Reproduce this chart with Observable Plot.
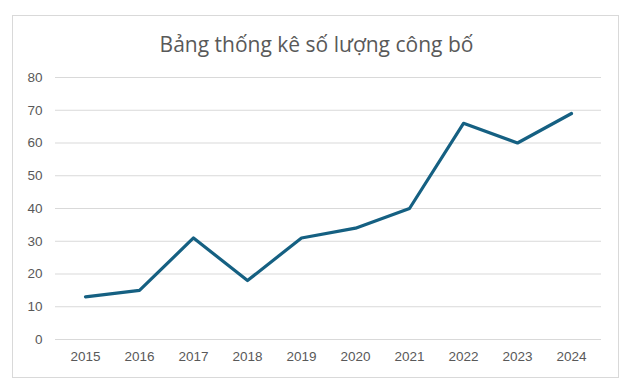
<!DOCTYPE html>
<html>
<head>
<meta charset="utf-8">
<script src="https://cdn.jsdelivr.net/npm/d3@7"></script>
<script src="https://cdn.jsdelivr.net/npm/@observablehq/plot@0.6"></script>
<style>
  html, body { margin: 0; padding: 0; background: #fff; }
  #wrap { position: relative; width: 633px; height: 391px; overflow: hidden; font-family: "Open Sans", "Noto Sans", sans-serif; }
  #frame { position: absolute; left: 12px; top: 15px; width: 605px; height: 361px; border: 1px solid #d9d9d9; }
  #title { position: absolute; left: 0; width: 633px; top: 29px; text-align: center; font-size: 21px; color: #595959; line-height: 30px; }
  #chart { position: absolute; left: 0; top: 0; }
</style>
</head>
<body>
<div id="wrap">
  <div id="frame"></div>
  <div id="title">Bảng thống kê số lượng công bố</div>
  <div id="chart"></div>
</div>
<script>
const years = ["2015","2016","2017","2018","2019","2020","2021","2022","2023","2024"];
const counts = [13, 15, 31, 18, 31, 34, 40, 66, 60, 69];
const yTicks = [0, 10, 20, 30, 40, 50, 60, 70, 80];

const data = years.map((y, i) => ({year: y, value: counts[i]}));

const plot = Plot.plot({
  width: 633,
  height: 391,
  marginTop: 77,
  marginBottom: 52,
  marginLeft: 55,
  marginRight: 32,
  style: { fontFamily: "Liberation Sans, Arial, sans-serif", fontSize: "13.5px", color: "#595959", background: "transparent" },
  x: { type: "point", domain: years, padding: 0.5, label: null, tickSize: 0, tickPadding: 12 },
  y: { domain: [0, 80], ticks: yTicks, label: null, tickSize: 0, tickPadding: 13 },
  marks: [
    Plot.gridY(yTicks, { stroke: "#d9d9d9", strokeOpacity: 1, strokeWidth: 1 }),
    Plot.line(data, { x: "year", y: "value", stroke: "#156082", strokeWidth: 3.2, strokeLinecap: "round", strokeLinejoin: "round" })
  ]
});
document.getElementById("chart").appendChild(plot);
</script>
</body>
</html>
